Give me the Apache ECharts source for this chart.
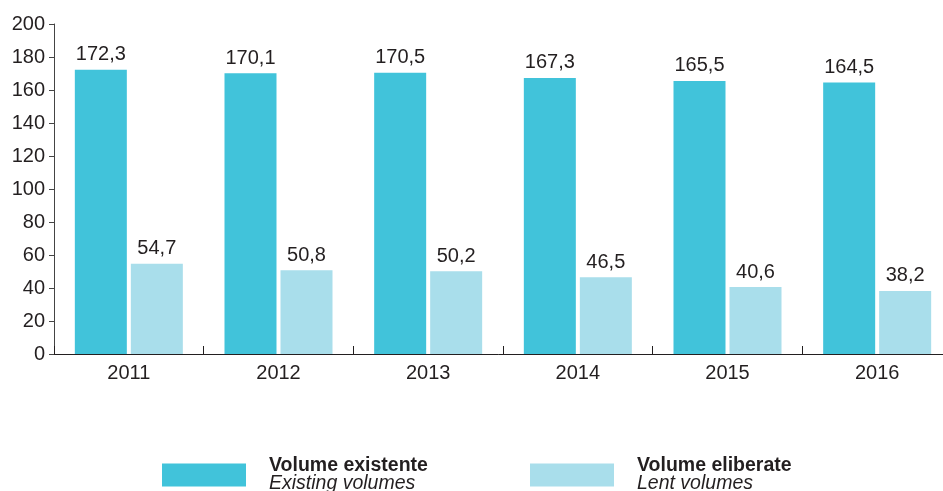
<!DOCTYPE html>
<html>
<head>
<meta charset="utf-8">
<script src="https://cdn.jsdelivr.net/npm/echarts@6/dist/echarts.min.js"></script>
<style>html,body{margin:0;padding:0;background:#fff}#c{width:943px;height:491px}</style>
</head>
<body>
<div id="c"></div>
<script>
const years = ['2011', '2012', '2013', '2014', '2015', '2016'];
const existing = [172.3, 170.1, 170.5, 167.3, 165.5, 164.5];
const lent = [54.7, 50.8, 50.2, 46.5, 40.6, 38.2];
const seriesNames = ['Volume existente', 'Volume eliberate'];
const seriesSubNames = ['Existing volumes', 'Lent volumes'];

const FONT = '"Liberation Sans", Arial, Helvetica, sans-serif';
const TXT = '#231f20';
const C1 = '#41c3da';
const C2 = '#a9deeb';

const chart = echarts.init(document.getElementById('c'));
const fmt = p => String(p.value).replace('.', ',');
const legendRich = {
  b: {fontFamily: FONT, fontSize: 19.5, fontWeight: 'bold', color: TXT, lineHeight: 18, padding: [0, 0, 0, 18]},
  i: {fontFamily: FONT, fontSize: 19.5, fontStyle: 'italic', color: TXT, lineHeight: 18, padding: [0, 0, 0, 18]}
};
function legendFor(idx, left) {
  return {
    data: [seriesNames[idx]],
    left: left, top: 456,
    itemWidth: 84, itemHeight: 23,
    icon: 'rect',
    padding: 0,
    selectedMode: false,
    formatter: n => '{b|' + n + '}\n{i|' + seriesSubNames[idx] + '}',
    textStyle: {rich: legendRich}
  };
}
chart.setOption({
  animation: false,
  textStyle: {fontFamily: FONT},
  grid: {left: 54, top: 24, width: 898, height: 330, containLabel: false, outerBoundsMode: 'none'},
  legend: [legendFor(0, 162), legendFor(1, 530)],
  xAxis: {
    type: 'category',
    data: years,
    axisLine: {lineStyle: {color: TXT, width: 1}},
    axisTick: {show: true, inside: true, length: 8, lineStyle: {color: TXT, width: 1}},
    axisLabel: {color: TXT, fontSize: 20, fontFamily: FONT, margin: 9}
  },
  yAxis: {
    type: 'value',
    min: 0, max: 200, interval: 20,
    splitLine: {show: false},
    axisLine: {show: true, lineStyle: {color: '#444', width: 1}},
    axisTick: {show: true, length: 5, lineStyle: {color: '#444'}},
    axisLabel: {color: TXT, fontSize: 20, fontFamily: FONT, margin: 9}
  },
  series: [
    {
      name: seriesNames[0], type: 'bar', data: existing,
      barWidth: 52, barGap: '7.7%',
      itemStyle: {color: C1},
      label: {show: true, position: 'top', distance: 5, formatter: fmt, color: TXT, fontSize: 20, fontFamily: FONT}
    },
    {
      name: seriesNames[1], type: 'bar', data: lent,
      barWidth: 52,
      itemStyle: {color: C2},
      label: {show: true, position: 'top', distance: 5, formatter: fmt, color: TXT, fontSize: 20, fontFamily: FONT}
    }
  ]
});
</script>
</body>
</html>
